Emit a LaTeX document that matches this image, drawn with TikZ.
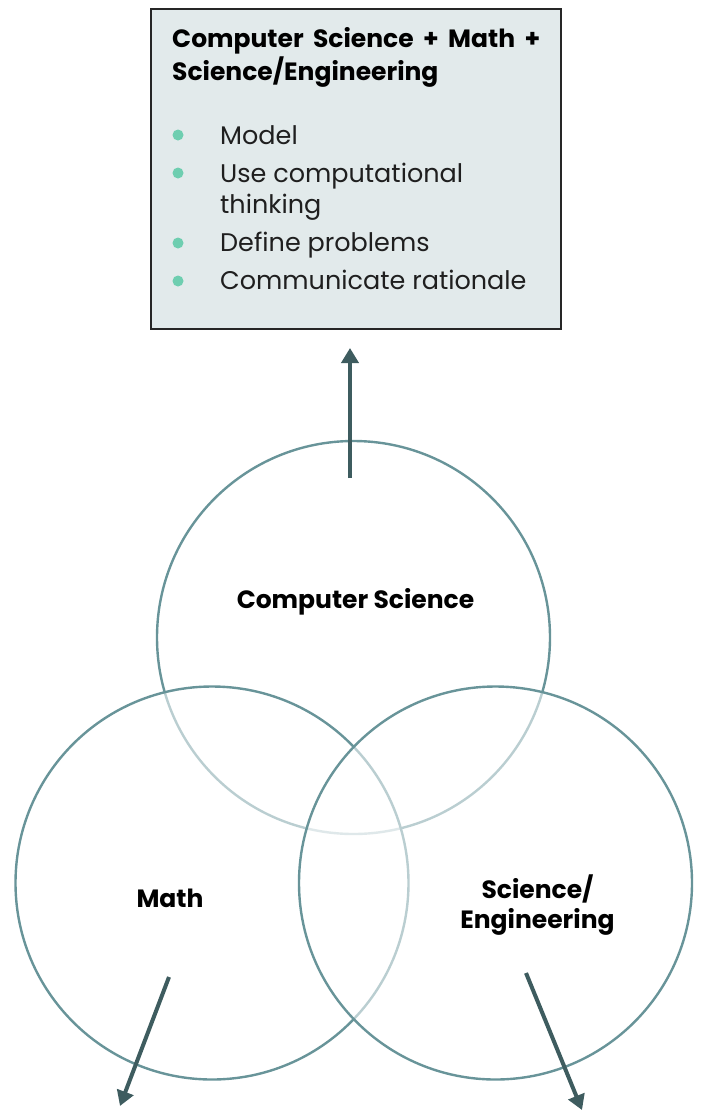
\documentclass[tikz,border=0pt]{standalone}
\usepackage{fontspec}
\setmainfont{Poppins}
\usetikzlibrary{arrows.meta}
\definecolor{ringc}{RGB}{104,148,153}
\definecolor{arrowc}{RGB}{62,92,95}
\definecolor{boxc}{RGB}{226,234,235}
\definecolor{dotc}{RGB}{110,206,176}
\tikzset{
  ring/.style={draw=ringc, line width=2.4pt, fill=white, fill opacity=0.55, draw opacity=1},
  bigarrow/.style={draw=arrowc, line width=4pt, -{Triangle[length=15pt,width=17pt]}},
  lbl/.style={font=\bfseries\fontsize{25}{30}\selectfont, text=black, inner sep=0pt, align=center},
  ttl/.style={font=\bfseries\fontsize{25}{30}\selectfont, anchor=base west, inner sep=0pt, text=black},
  item/.style={font=\fontsize{25.5}{31}\selectfont, anchor=base west, inner sep=0pt, text=black!88},
  dot/.style={circle, fill=dotc, minimum size=11pt, inner sep=0pt},
}
\begin{document}
\begin{tikzpicture}[x=1pt,y=-1pt]
\useasboundingbox (0,0) rectangle (702,1111);
% summary box
\node[draw=black!85, line width=1.6pt, fill=boxc, minimum width=410pt, minimum height=320pt, anchor=north west, inner sep=0pt] (box) at (150,8) {};
\node[ttl] (t1) at (172,47) {\hbox to 368pt{Computer\hfill{} Science\hfill{} +\hfill{} Math\hfill{} +}};
\node[ttl] (t2) at (172,80) {Science/Engineering};
\node[dot] (d1) at (178,135) {};
\node[dot] (d2) at (178,173) {};
\node[dot] (d3) at (178,243) {};
\node[dot] (d4) at (178,281) {};
\node[item] (i1) at (220,144) {Model};
\node[item] (i2) at (220,182) {Use computational};
\node[item] (i2b) at (220,213) {thinking};
\node[item] (i3) at (220,251) {Define problems};
\node[item] (i4) at (220,289) {Communicate rationale};
% circles
\node[ring, circle, minimum size=393pt, inner sep=0pt] (cs) at (353.5,637.5) {};
\node[ring, circle, minimum size=393pt, inner sep=0pt] (ma) at (212,883) {};
\node[ring, circle, minimum size=393pt, inner sep=0pt] (sc) at (495.5,883) {};
% labels
\node[lbl, anchor=base] (lcs) at (355.5,608) {Computer Science};
\node[lbl, anchor=base] (lma) at (170,907) {Math};
\node[lbl, anchor=base] (lsc) at (537.5,928) {Science/\\Engineering};
% arrows
\coordinate (ua) at (350,478);
\coordinate (ub) at (350,348);
\coordinate (la) at (169,977);
\coordinate (lb) at (120,1106);
\coordinate (ra) at (526,973);
\coordinate (rb) at (582,1110);
\draw[bigarrow] (ua) -- (ub);
\draw[bigarrow] (la) -- (lb);
\draw[bigarrow] (ra) -- (rb);
\end{tikzpicture}
\end{document}
